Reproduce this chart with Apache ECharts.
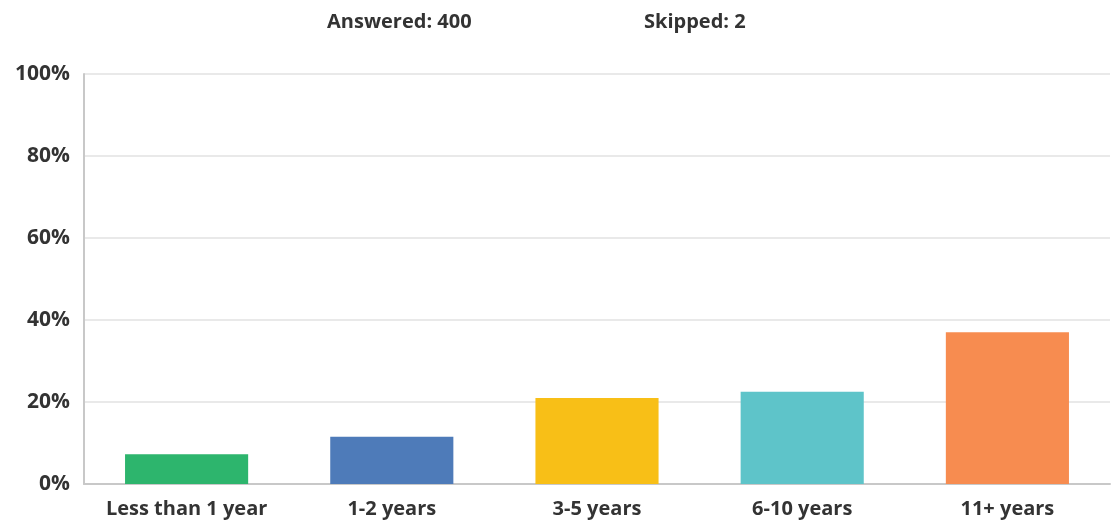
<!DOCTYPE html>
<html>
<head>
<meta charset="utf-8">
<script src="https://cdn.jsdelivr.net/npm/echarts@6/dist/echarts.min.js"></script>
<style>
  html,body{margin:0;padding:0;background:#fff;}
  #chart{width:1114px;height:522px;}
</style>
</head>
<body>
<div id="chart"></div>
<script>
  const categories = ['Less than 1 year', '1-2 years', '3-5 years', '6-10 years', '11+ years'];
  const values = [7.25, 11.5, 21.0, 22.5, 37.0];
  const barColors = ['#2DB56D', '#4E7BB9', '#F8BF17', '#5EC4C9', '#F78C50'];
  const headerTexts = ['Answered: 400', 'Skipped: 2'];

  const FONT = '"Open Sans", "Noto Sans", sans-serif';
  const chart = echarts.init(document.getElementById('chart'), null, {renderer:'canvas'});

  chart.setOption({
    animation:false,
    backgroundColor:'#fff',
    graphic:[
      {type:'text', left:327, top:12, style:{text:headerTexts[0], font:'bold 20px ' + FONT, fill:'#333'}},
      {type:'text', left:644, top:12, style:{text:headerTexts[1], font:'bold 20px ' + FONT, fill:'#333'}}
    ],
    grid:{left:84, right:4, top:74, bottom:38, containLabel:false},
    xAxis:{
      type:'category',
      data:categories,
      axisTick:{show:false},
      axisLine:{lineStyle:{color:'#c8c8c8', width:2}},
      axisLabel:{interval:0, color:'#333', fontSize:20, fontWeight:'bold', fontFamily:FONT, margin:15}
    },
    yAxis:{
      type:'value',
      min:0, max:100, interval:20,
      axisLine:{show:true, lineStyle:{color:'#c8c8c8', width:2}},
      axisTick:{show:false},
      splitLine:{lineStyle:{color:'#e2e2e2', width:1.5}},
      axisLabel:{color:'#333', fontSize:21, fontWeight:'bold', fontFamily:FONT, margin:14,
        formatter:v=>v+'%', padding:[4,0,0,0]}
    },
    series:[{
      type:'bar',
      barWidth:'60%',
      data:values.map((v,i)=>({value:v, itemStyle:{color:barColors[i]}}))
    }]
  });
</script>
</body>
</html>
